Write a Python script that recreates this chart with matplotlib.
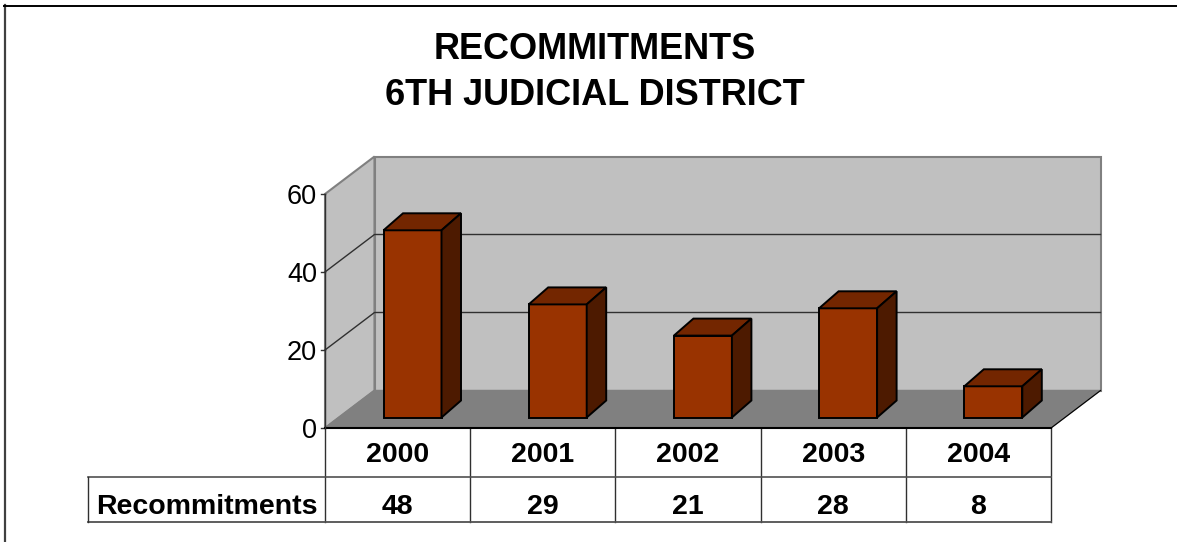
import matplotlib
matplotlib.use('Agg')
import matplotlib.pyplot as plt
from matplotlib.patches import Polygon

plt.rcParams['font.family'] = ['Liberation Sans', 'DejaVu Sans']

W, H = 1177, 542

years = ['2000', '2001', '2002', '2003', '2004']
recommitments = [48, 29, 21, 28, 8]
y_ticks = [0, 20, 40, 60]
row_label = 'Recommitments'
title = 'RECOMMITMENTS\n6TH JUDICIAL DISTRICT'

WALL = '#c0c0c0'
FLOOR = '#808080'
EDGE = '#808080'
FRONT = '#993300'
TOP = '#732600'
SIDE = '#4d1a00'

fig = plt.figure(figsize=(W / 100, H / 100), dpi=100)

# whole picture in pixels, for border and title
bg = fig.add_axes([0, 0, 1, 1])
bg.set_xlim(0, W)
bg.set_ylim(H, 0)
bg.axis('off')
bg.plot([4.5, 4.5], [H, 5], color='#404040', lw=1.6)
bg.plot([4, W], [5.5, 5.5], color='k', lw=1.4)
bg.text(595, 72.5, title, ha='center', va='center', fontsize=26, fontweight='bold',
        linespacing=1.4)

# front plane of the chart, x in categories and y in values
left, right, y0, y60 = 325, 1051, 428, 194
ax = fig.add_axes([left / W, 1 - y0 / H, (right - left) / W, (y0 - y60) / H])
ax.set_xlim(0, len(years))
ax.set_ylim(0, 60)
ax.axis('off')

px = len(years) / (right - left)
py = 60 / (y0 - y60)
dx, dy = 49.5 * px, 37.5 * py   # depth of the box


def poly(pts, fc, ec='k', lw=1.0, z=2):
    ax.add_patch(Polygon(pts, closed=True, fc=fc, ec=ec, lw=lw, zorder=z,
                         clip_on=False, joinstyle='miter'))


n = len(years)
poly([(0, 0), (dx, dy), (dx, 60 + dy), (0, 60)], WALL, EDGE, 1.5)
poly([(dx, dy), (n + dx, dy), (n + dx, 60 + dy), (dx, 60 + dy)], WALL, EDGE, 1.5)
poly([(0, 0), (n, 0), (n + dx, dy), (dx, dy)], FLOOR, FLOOR, 1.0)
ax.plot([0, n], [0, 0], color='k', lw=1.5, zorder=3, clip_on=False)
ax.plot([n, n + dx], [0, dy], color='k', lw=0.8, zorder=3, clip_on=False)

for t in y_ticks:
    if t not in (0, 60):
        ax.plot([0, dx, n + dx], [t, t + dy, t + dy], color='#303030', lw=1.0, zorder=2.5,
                clip_on=False)
    ax.plot([-4 * px, 0], [t, t], color='#303030', lw=1.0, clip_on=False)
    ax.text(-8 * px, t - 3.5 * py, str(t), ha='right', va='center', fontsize=19.5)
ax.plot([0, 0], [0, 60], color='#303030', lw=1.0, zorder=3, clip_on=False)

# bars sit a little way back on the floor
bw = 58 * px
bar_left = 58.5 * px
by = 10.5 * py
bdx, bdy = 19.5 * px, 17 * py
for i, v in enumerate(recommitments):
    x1 = i + bar_left
    x2 = x1 + bw
    b, t = by, by + v
    poly([(x1, b), (x2, b), (x2, t), (x1, t)], FRONT, 'k', 1.4, 5)
    poly([(x1, t), (x2, t), (x2 + bdx, t + bdy), (x1 + bdx, t + bdy)], TOP, 'k', 1.4, 5)
    poly([(x2, b), (x2 + bdx, b + bdy), (x2 + bdx, t + bdy), (x2, t)], SIDE, 'k', 1.4, 5)

# data table under the chart
row1 = -49 * py
row2 = -94 * py
lab = -237 * px
for i in range(n + 1):
    ax.plot([i, i], [0, row2], color='#303030', lw=1.0, clip_on=False, zorder=1)
ax.plot([lab, n], [row1, row1], color='#505050', lw=1.2, clip_on=False)
ax.plot([lab, n], [row2, row2], color='#505050', lw=1.3, clip_on=False)
ax.plot([lab, lab], [row1, row2], color='#303030', lw=1.0, clip_on=False)
for i, (yr, v) in enumerate(zip(years, recommitments)):
    ax.text(i + 0.5, -27 * py, yr, ha='center', va='center', fontsize=20.5, fontweight='bold')
    ax.text(i + 0.5, -78.5 * py, str(v), ha='center', va='center', fontsize=20.5,
            fontweight='bold')
ax.text(lab / 2, -78.5 * py, row_label, ha='center', va='center', fontsize=20.5,
        fontweight='bold')

fig.savefig('out.png', dpi=100)
